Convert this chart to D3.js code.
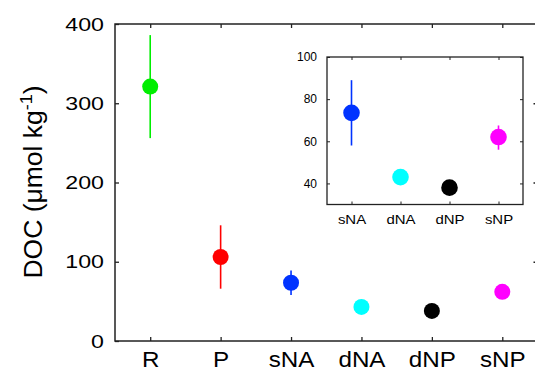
<!DOCTYPE html>
<html>
<head>
<script src="https://cdn.jsdelivr.net/npm/d3@7"></script>
<style>
body { margin: 0; background: #fff; }
svg { display: block; font-family: "Liberation Sans", Arial, sans-serif; }
</style>
</head>
<body>
<svg id="chart" width="535" height="371"></svg>
<script>
// data
var sites = ["R", "P", "sNA", "dNA", "dNP", "sNP"];
var doc = [321, 106, 73.5, 43, 38, 62];
var docLo = [256, 66, 58, 40, 36, 56];
var docHi = [386, 146, 89, 46.5, 40, 67.5];
var colors = ["#00ee00", "#ff0000", "#0033ff", "#00ffff", "#000000", "#ff00ff"];
var yTicks = [0, 100, 200, 300, 400];

var insetSites = ["sNA", "dNA", "dNP", "sNP"];
var insetTicks = [40, 60, 80, 100];

var svg = d3.select("#chart");
var axisColor = "#222";

// stretch text a bit wider, the original labels are drawn wide
function stretch(sel, k) {
  sel.each(function () {
    var len = this.getComputedTextLength();
    d3.select(this).attr("textLength", len * k).attr("lengthAdjust", "spacingAndGlyphs");
  });
}

// ---- main panel ----
var x = d3.scaleLinear().domain([0.5, 6.5]).range([115, 537.5]);
var y = d3.scaleLinear().domain([0, 400]).range([341, 24]);

var main = svg.append("g");

main.append("g")
  .attr("transform", "translate(" + x.range()[0] + ",0)")
  .call(d3.axisLeft(y).tickValues(yTicks).tickSizeInner(-4).tickSizeOuter(0).tickPadding(11))
  .call(function (g) { g.select(".domain").remove(); })
  .call(function (g) {
    g.selectAll("text").attr("font-size", 19).attr("font-family", null).attr("fill", "#000");
  });

main.append("g")
  .attr("transform", "translate(" + x.range()[1] + ",0)")
  .call(d3.axisRight(y).tickValues(yTicks.slice(1, 4)).tickSizeInner(-4).tickSizeOuter(0).tickFormat(""))
  .call(function (g) { g.select(".domain").remove(); });

main.append("g")
  .attr("transform", "translate(0," + y.range()[0] + ")")
  .call(d3.axisBottom(x).tickValues(d3.range(1, 7)).tickFormat(function (d) { return sites[d - 1]; })
    .tickSizeInner(-4).tickSizeOuter(0).tickPadding(10))
  .call(function (g) { g.select(".domain").remove(); })
  .call(function (g) {
    g.selectAll("text").attr("font-size", 22).attr("font-family", null).attr("fill", "#000");
  });

main.append("g")
  .attr("transform", "translate(0," + y.range()[1] + ")")
  .call(d3.axisTop(x).tickValues(d3.range(1, 7)).tickSizeInner(-4).tickSizeOuter(0).tickFormat(""))
  .call(function (g) { g.select(".domain").remove(); });

main.selectAll(".tick line").attr("stroke", axisColor).attr("stroke-width", 1.3);

main.append("rect")
  .attr("x", x.range()[0]).attr("y", y.range()[1])
  .attr("width", x.range()[1] - x.range()[0])
  .attr("height", y.range()[0] - y.range()[1])
  .attr("fill", "none").attr("stroke", axisColor).attr("stroke-width", 1.5);

main.selectAll(".err")
  .data(sites)
  .join("line")
  .attr("x1", function (d, i) { return x(i + 1); })
  .attr("x2", function (d, i) { return x(i + 1); })
  .attr("y1", function (d, i) { return y(docLo[i]); })
  .attr("y2", function (d, i) { return y(docHi[i]); })
  .attr("stroke", function (d, i) { return colors[i]; })
  .attr("stroke-width", 1.6);

main.selectAll(".dot")
  .data(sites)
  .join("circle")
  .attr("cx", function (d, i) { return x(i + 1); })
  .attr("cy", function (d, i) { return y(doc[i]); })
  .attr("r", 8)
  .attr("fill", function (d, i) { return colors[i]; });

// y label
var ylab = svg.append("text")
  .attr("transform", "translate(42,182) rotate(-90)")
  .attr("text-anchor", "middle")
  .attr("font-size", 25)
  .attr("fill", "#000");
ylab.append("tspan").text("DOC (\u03bcmol kg");
ylab.append("tspan").attr("font-size", 17).attr("dy", -10).text("-1");
ylab.append("tspan").attr("dy", 10).text(")");

// ---- inset ----
var xi = d3.scaleLinear().domain([0.5, 4.5]).range([327, 523]);
var yi = d3.scaleLinear().domain([30, 100]).range([204.5, 57]);

var inset = svg.append("g");

inset.append("rect")
  .attr("x", xi.range()[0]).attr("y", yi.range()[1])
  .attr("width", xi.range()[1] - xi.range()[0])
  .attr("height", yi.range()[0] - yi.range()[1])
  .attr("fill", "#fff");

inset.append("g")
  .attr("transform", "translate(" + xi.range()[0] + ",0)")
  .call(d3.axisLeft(yi).tickValues(insetTicks).tickSizeInner(-3).tickSizeOuter(0).tickPadding(10))
  .call(function (g) { g.select(".domain").remove(); })
  .call(function (g) {
    g.selectAll("text").attr("font-size", 12).attr("font-family", null).attr("fill", "#000");
  });

inset.append("g")
  .attr("transform", "translate(" + xi.range()[1] + ",0)")
  .call(d3.axisRight(yi).tickValues(insetTicks).tickSizeInner(-3).tickSizeOuter(0).tickFormat(""))
  .call(function (g) { g.select(".domain").remove(); });

inset.append("g")
  .attr("transform", "translate(0," + yi.range()[0] + ")")
  .call(d3.axisBottom(xi).tickValues(d3.range(1, 5)).tickFormat(function (d) { return insetSites[d - 1]; })
    .tickSizeInner(-3).tickSizeOuter(0).tickPadding(10))
  .call(function (g) { g.select(".domain").remove(); })
  .call(function (g) {
    g.selectAll("text").attr("font-size", 13).attr("font-family", null).attr("fill", "#000");
  });

inset.append("g")
  .attr("transform", "translate(0," + yi.range()[1] + ")")
  .call(d3.axisTop(xi).tickValues(d3.range(1, 5)).tickSizeInner(-3).tickSizeOuter(0).tickFormat(""))
  .call(function (g) { g.select(".domain").remove(); });

inset.selectAll(".tick line").attr("stroke", axisColor).attr("stroke-width", 1);

inset.append("rect")
  .attr("x", xi.range()[0]).attr("y", yi.range()[1])
  .attr("width", xi.range()[1] - xi.range()[0])
  .attr("height", yi.range()[0] - yi.range()[1])
  .attr("fill", "none").attr("stroke", axisColor).attr("stroke-width", 1.3);

inset.selectAll(".err")
  .data(insetSites)
  .join("line")
  .attr("x1", function (d, i) { return xi(i + 1); })
  .attr("x2", function (d, i) { return xi(i + 1); })
  .attr("y1", function (d, i) { return yi(docLo[i + 2]); })
  .attr("y2", function (d, i) { return yi(docHi[i + 2]); })
  .attr("stroke", function (d, i) { return colors[i + 2]; })
  .attr("stroke-width", 1.6);

inset.selectAll(".dot")
  .data(insetSites)
  .join("circle")
  .attr("cx", function (d, i) { return xi(i + 1); })
  .attr("cy", function (d, i) { return yi(doc[i + 2]); })
  .attr("r", 8.3)
  .attr("fill", function (d, i) { return colors[i + 2]; });

// widen the labels like in the original
main.selectAll(".tick text").filter(function () { return +d3.select(this).attr("font-size") === 19; })
  .call(stretch, 1.22);
main.selectAll(".tick text").filter(function () { return +d3.select(this).attr("font-size") === 22; })
  .call(stretch, 1.1);
inset.selectAll(".tick text").filter(function () { return +d3.select(this).attr("font-size") === 13; })
  .call(stretch, 1.15);
ylab.call(stretch, 1.06);
</script>
</body>
</html>
